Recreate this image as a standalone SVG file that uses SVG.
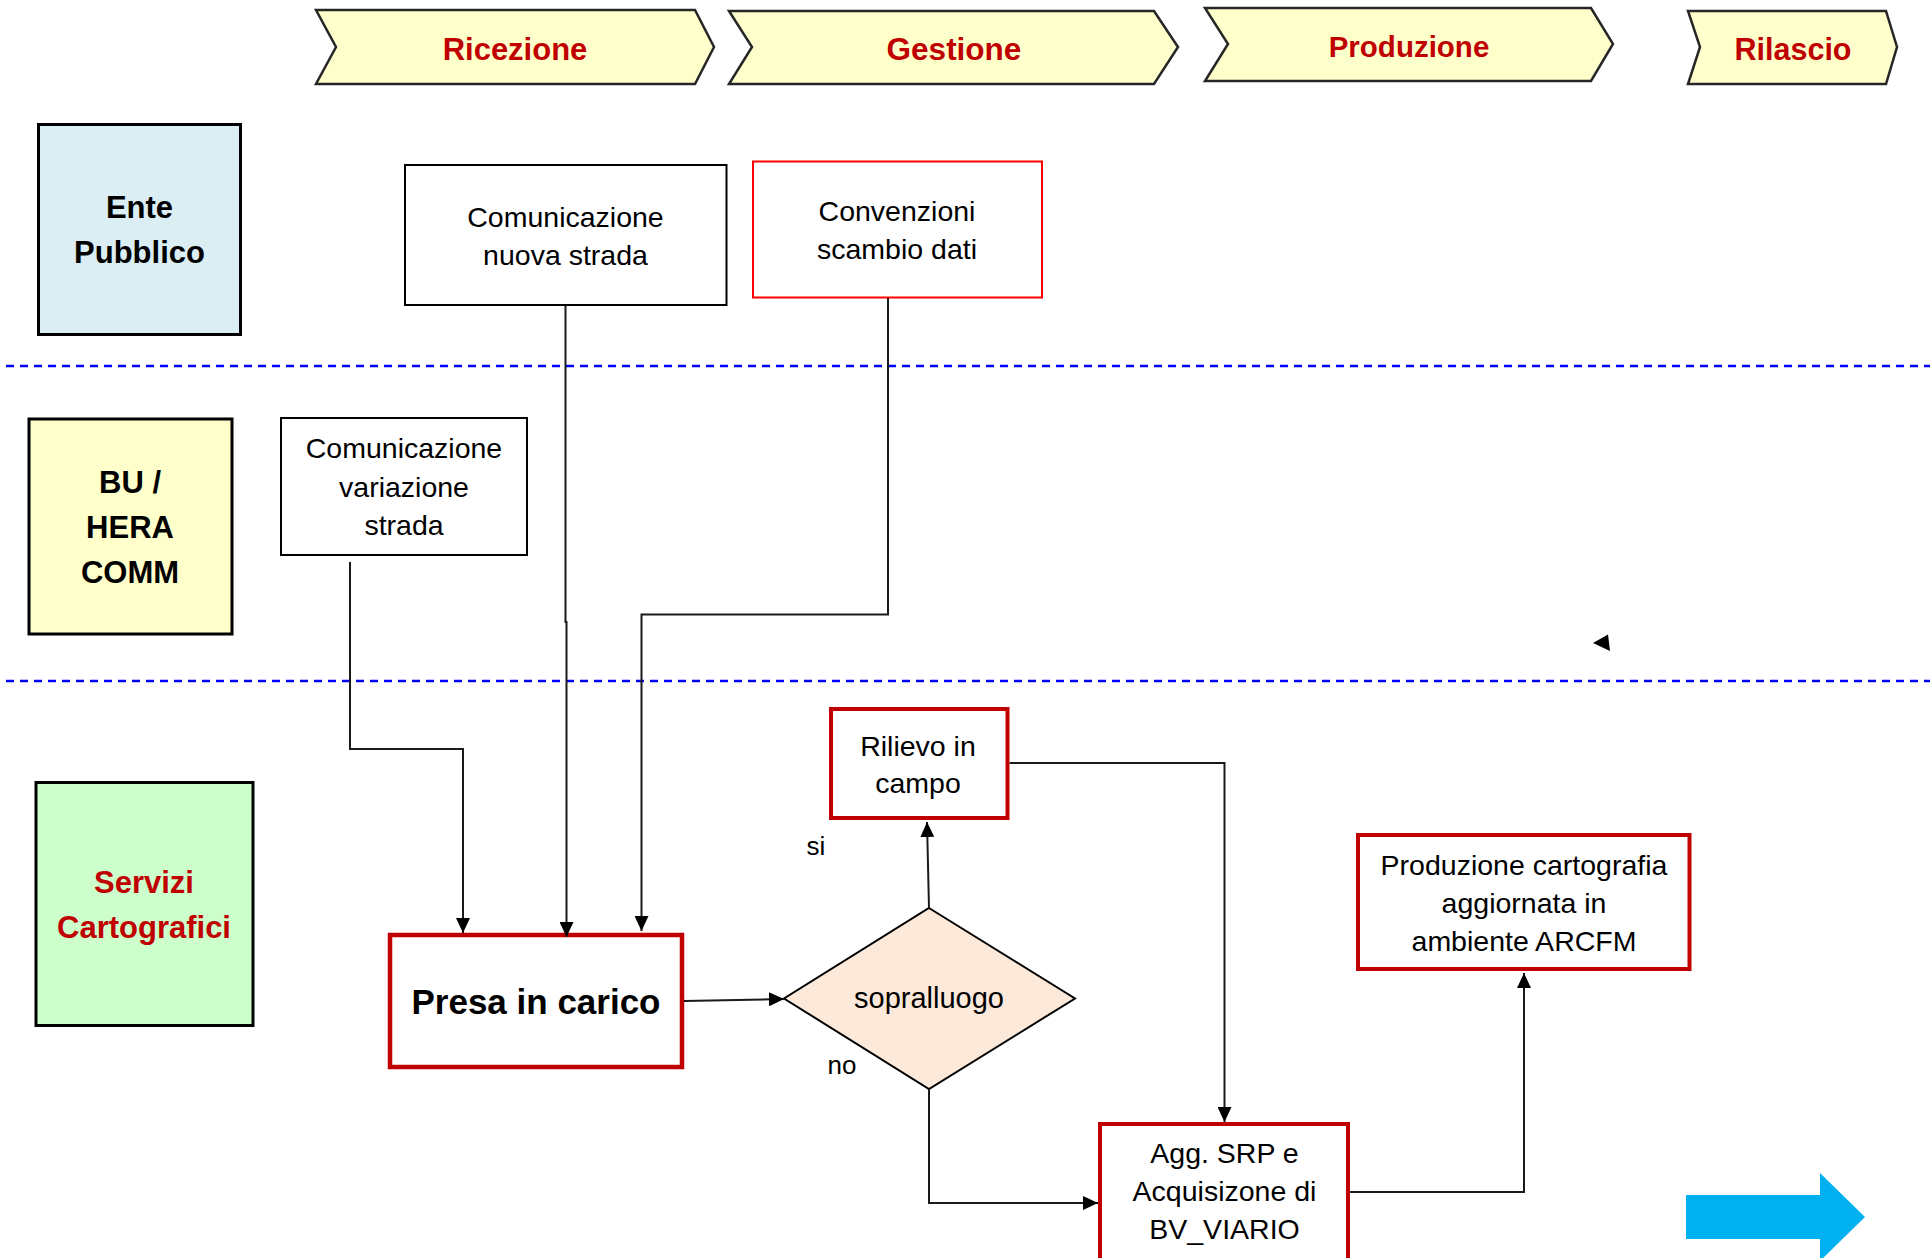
<svg xmlns="http://www.w3.org/2000/svg" width="1930" height="1258" viewBox="0 0 1930 1258">
<defs>
<style>
.chev{fill:#FFFFCC;stroke:#262626;stroke-width:2.5}
.phase{font-family:"Liberation Sans",Arial,sans-serif;font-weight:bold;fill:#C00000;text-anchor:middle}
.lane{stroke:#000;stroke-width:3}
.lt{font-family:"Liberation Sans",Arial,sans-serif;font-weight:bold;font-size:31px;text-anchor:middle;fill:#000}
.box{fill:#fff;stroke:#000;stroke-width:2}
.rbox{fill:#fff;stroke:#C00000;stroke-width:4}
.t{font-family:"Liberation Sans",Arial,sans-serif;font-size:28.5px;text-anchor:middle;fill:#000}
.sep{stroke:#0000FF;stroke-width:2.5;stroke-dasharray:8 6;fill:none}
.con{fill:none;stroke:#1a1a1a;stroke-width:2}
</style>
<marker id="ah" markerUnits="userSpaceOnUse" markerWidth="15" markerHeight="14" refX="15" refY="7" orient="auto">
<path d="M0,0 L15,7 L0,14 z" fill="#000"/>
</marker>
</defs>
<rect width="1930" height="1258" fill="#fff"/>

<g id="phases">
<g id="phase-ricezione">
<polygon class="chev" points="316,10 695,10 714,47 695,84 316,84 336,47"/>
<text class="phase" x="515" y="60" font-size="31">Ricezione</text>
</g>
<g id="phase-gestione">
<polygon class="chev" points="729,11 1154,11 1178,47 1154,84 729,84 752,47"/>
<text class="phase" x="954" y="60" font-size="31.5">Gestione</text>
</g>
<g id="phase-produzione">
<polygon class="chev" points="1205,8 1591,8 1613,44 1591,81 1205,81 1228,44"/>
<text class="phase" x="1409" y="57" font-size="29.5">Produzione</text>
</g>
<g id="phase-rilascio">
<polygon class="chev" points="1688,11 1886,11 1897,47 1886,84 1688,84 1700,47"/>
<text class="phase" x="1793" y="60" font-size="30.5">Rilascio</text>
</g>
</g>

<g id="separators">
<line class="sep" x1="6" y1="366" x2="1930" y2="366"/>
<line class="sep" x1="6" y1="681" x2="1930" y2="681"/>
</g>

<g id="lane-ente">
<rect class="lane" x="38.5" y="124.5" width="202" height="210" fill="#DAEEF3"/>
<text class="lt" x="139.5" y="218">Ente</text>
<text class="lt" x="139.5" y="263">Pubblico</text>
</g>
<g id="lane-bu">
<rect class="lane" x="29" y="419" width="203" height="215" fill="#FFFFCC"/>
<text class="lt" x="130" y="493">BU /</text>
<text class="lt" x="130" y="538">HERA</text>
<text class="lt" x="130" y="583">COMM</text>
</g>
<g id="lane-servizi">
<rect class="lane" x="36" y="782.5" width="217" height="243" fill="#CCFFCC"/>
<text class="lt" x="144" y="893" fill="#C00000" style="fill:#C00000">Servizi</text>
<text class="lt" x="144" y="938" style="fill:#C00000">Cartografici</text>
</g>

<g id="node-nuova-strada">
<rect class="box" x="405" y="165" width="321.5" height="140"/>
<text class="t" x="565.5" y="227">Comunicazione</text>
<text class="t" x="565.5" y="265">nuova strada</text>
</g>
<g id="node-convenzioni">
<rect class="box" x="753" y="161.5" width="289" height="136" style="stroke:#FF0000"/>
<text class="t" x="897" y="220.5">Convenzioni</text>
<text class="t" x="897" y="258.5">scambio dati</text>
</g>
<g id="node-variazione">
<rect class="box" x="281" y="418" width="246" height="137"/>
<text class="t" x="404" y="458">Comunicazione</text>
<text class="t" x="404" y="497">variazione</text>
<text class="t" x="404" y="535">strada</text>
</g>
<g id="node-presa">
<rect class="rbox" x="390" y="935" width="292" height="132" style="stroke-width:4.5"/>
<text class="t" x="536" y="1014" style="font-weight:bold;font-size:35px">Presa in carico</text>
</g>
<g id="node-sopralluogo">
<polygon points="929,908 1075,998.5 929,1089 784,998.5" fill="#FDE9D9" stroke="#000" stroke-width="2"/>
<text class="t" x="929" y="1008" style="font-size:29px">sopralluogo</text>
</g>
<g id="node-rilievo">
<rect class="rbox" x="831" y="709" width="176.5" height="109"/>
<text class="t" x="918" y="755.5">Rilievo in</text>
<text class="t" x="918" y="792.5">campo</text>
</g>
<g id="node-agg">
<rect class="rbox" x="1100" y="1124" width="248" height="140"/>
<text class="t" x="1224.5" y="1163">Agg. SRP e</text>
<text class="t" x="1224.5" y="1200.5">Acquisizone di</text>
<text class="t" x="1224.5" y="1238.5">BV_VIARIO</text>
</g>
<g id="node-produzione">
<rect class="rbox" x="1358" y="835" width="331.5" height="134"/>
<text class="t" x="1524" y="875">Produzione cartografia</text>
<text class="t" x="1524" y="912.5">aggiornata in</text>
<text class="t" x="1524" y="950.5">ambiente ARCFM</text>
</g>

<g id="labels">
<text class="t" x="816" y="855" style="font-size:26px">si</text>
<text class="t" x="842" y="1074" style="font-size:26px">no</text>
</g>

<g id="connectors">
<path class="con" d="M350,562 V749 H463 V933" marker-end="url(#ah)"/>
<path class="con" d="M565.5,306 V622 H566.5 V937" marker-end="url(#ah)"/>
<path class="con" d="M888,298 V614.5 H641.5 V931" marker-end="url(#ah)"/>
<path class="con" d="M684,1001 L784,999" marker-end="url(#ah)"/>
<path class="con" d="M929,908 L927,822" marker-end="url(#ah)"/>
<path class="con" d="M1009.5,763 H1224.5 V1122" marker-end="url(#ah)"/>
<path class="con" d="M929,1089 V1203 H1098" marker-end="url(#ah)"/>
<path class="con" d="M1350,1192 H1524 V973" marker-end="url(#ah)"/>
<polygon points="1593,643 1608,634.5 1610,651" fill="#000"/>
</g>

<g id="big-arrow">
<polygon points="1686,1195 1820,1195 1820,1173 1865,1217 1820,1261 1820,1239 1686,1239" fill="#00B0F0"/>
</g>
</svg>
